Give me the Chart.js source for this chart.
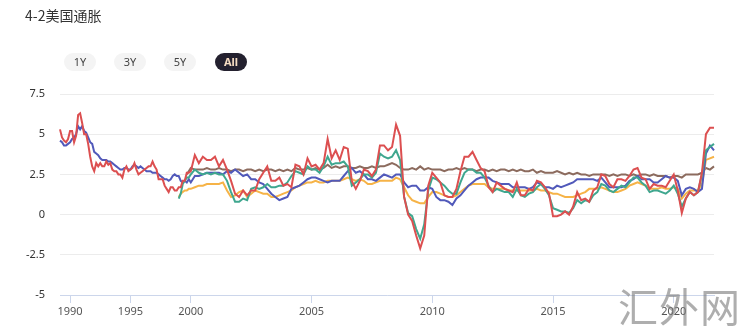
<!DOCTYPE html>
<html>
<head>
<meta charset="utf-8">
<script src="https://cdn.jsdelivr.net/npm/chart.js@4.4.0/dist/chart.umd.min.js"></script>
<style>
  body { margin: 0; background: #fff; }
  #wrap { position: relative; width: 745px; height: 327px; overflow: hidden; }
  #title { position: absolute; left: 25px; top: 5px; font: 14px "Noto Sans CJK SC", sans-serif; color: #333; }
  .btn { position: absolute; top: 53px; width: 32px; height: 18px; border-radius: 9px; background: #f4f4f4;
         font: 11px "Noto Sans", sans-serif; color: #444; text-align: center; line-height: 18px; }
  .btn.on { background: #24212f; color: #f6dcc2; font-weight: bold; }
  #mark { position: absolute; left: 618px; top: 276px; font: 400 40px "Noto Sans CJK SC", sans-serif;
          color: rgba(120,120,120,0.6); letter-spacing: 1px; }
  canvas { position: absolute; left: 0; top: 0; }
</style>
</head>
<body>
<div id="wrap">
  <canvas id="inflation-chart" width="745" height="327"></canvas>
  <div id="title">4-2美国通胀</div>
  <div class="btn" style="left:64px">1Y</div>
  <div class="btn" style="left:114px">3Y</div>
  <div class="btn" style="left:164px">5Y</div>
  <div class="btn on" style="left:215px">All</div>
  <div id="mark">汇外网</div>
</div>
<script>
// categories: every 2 months before 2000, monthly from 2000 on (as in the source chart)
const categories = [];
for (let y = 1989; y <= 2021; y++) {
    for (let m = 1; m <= 12; m++) {
        if (y === 1989 && m < 3) continue;
        if (y === 2021 && m > 9) break;
        if (y < 2000 && m % 2 === 0) continue;
        categories.push(`${y}-${String(m).padStart(2, '0')}`);
    }
}
// values are read at odd months (Jan, Mar, May, Jul, Sep, Nov)
const sampleDates = categories.filter(c => +c.slice(5) % 2 === 1);

// CPI YoY, from 1989-03
const cpi = [
    5.3, 4.8, 4.6, 4.5, 4.7,
    5.2, 5.2, 4.5, 4.9, 6.2, 6.3,
    5.7, 5.0, 5.0, 4.4, 3.6, 3.0,
    2.7, 3.2, 3.0, 3.2, 3.0, 3.0,
    3.3, 3.1, 3.2, 2.8, 2.7, 2.7,
    2.5, 2.5, 2.3, 2.8, 3.0, 2.7,
    2.8, 2.9, 3.2, 2.8, 2.5, 2.6,
    2.7, 2.8, 2.9, 3.0, 3.0, 3.3,
    3.0, 2.8, 2.2, 2.2, 2.2, 1.8,
    1.6, 1.4, 1.7, 1.7, 1.5, 1.5,
    1.7, 1.7, 2.1, 2.1, 2.6, 2.6,
    2.7, 3.7, 3.2, 3.6, 3.4, 3.4,
    3.6, 3.0, 3.4, 2.8, 2.1, 1.3,
    1.1, 1.5, 1.2, 1.5, 1.5, 2.2,
    2.6, 3.0, 2.1, 2.1, 2.3, 1.8,
    1.9, 1.7, 3.1, 3.0, 2.5, 3.5,
    3.0, 3.1, 2.8, 3.2, 4.7, 3.5,
    4.0, 3.4, 4.2, 4.1, 2.1, 1.6,
    2.1, 2.8, 2.7, 2.4, 2.8, 4.3,
    4.3, 4.0, 4.2, 5.6, 4.9, 1.1,
    0.0, -0.4, -1.3, -2.1, -1.3, 1.8,
    2.6, 2.3, 2.0, 1.2, 1.1, 1.1,
    1.6, 2.7, 3.6, 3.6, 3.9, 3.4,
    2.9, 2.7, 1.7, 1.4, 2.0, 1.8,
    1.6, 1.5, 1.4, 2.0, 1.2, 1.2,
    1.6, 1.5, 2.1, 2.0, 1.7, 1.3,
    -0.1, -0.1, 0.0, 0.2, 0.0, 0.5,
    1.4, 0.9, 1.0, 0.8, 1.5, 1.7,
    2.5, 2.4, 1.9, 1.7, 2.2, 2.2,
    2.1, 2.4, 2.8, 2.9, 2.3, 2.2,
    1.6, 1.9, 1.8, 1.8, 1.7, 2.1,
    2.5, 1.5, 0.1, 1.0, 1.4, 1.2,
    1.4, 2.6, 5.0, 5.4, 5.4
];

// core CPI YoY, from 1989-03
const coreCpi = [
    4.6, 4.5, 4.3, 4.3, 4.4,
    4.5, 4.7, 4.8, 5.0, 5.5, 5.3,
    5.5, 5.2, 5.1, 4.8, 4.5, 4.4,
    3.9, 3.8, 3.7, 3.5, 3.4, 3.4,
    3.4, 3.3, 3.3, 3.2, 3.1, 3.0,
    2.9, 2.8, 2.8, 2.9, 2.9, 2.8,
    2.8, 3.0, 3.1, 3.0, 2.9, 3.0,
    2.9, 2.8, 2.7, 2.7, 2.7, 2.6,
    2.6, 2.6, 2.5, 2.4, 2.3, 2.2,
    2.2, 2.1, 2.2, 2.4, 2.5, 2.4,
    2.4, 2.1, 2.0, 2.1, 2.0, 2.2,
    2.0, 2.4, 2.4, 2.5, 2.6, 2.6,
    2.6, 2.6, 2.5, 2.7, 2.6, 2.8,
    2.6, 2.4, 2.5, 2.2, 2.2, 2.0,
    1.9, 1.6, 1.3, 1.1, 0.9, 1.0,
    1.1, 1.6, 1.7, 1.8, 2.0, 2.2,
    2.3, 2.3, 2.2, 2.1, 2.0, 2.1,
    2.1, 2.1, 2.4, 2.7, 2.9, 2.6,
    2.7, 2.5, 2.2, 2.2, 2.1, 2.3,
    2.5, 2.4, 2.3, 2.5, 2.5, 2.0,
    1.7, 1.8, 1.8, 1.5, 1.5, 1.7,
    1.6, 1.1, 0.9, 0.9, 0.8, 0.6,
    1.0, 1.2, 1.5, 1.8, 2.0, 2.2,
    2.3, 2.3, 2.3, 2.1, 2.0, 1.9,
    1.9, 1.9, 1.7, 1.7, 1.7, 1.7,
    1.6, 1.7, 2.0, 1.9, 1.7, 1.7,
    1.6, 1.8, 1.7, 1.8, 1.9, 2.0,
    2.2, 2.2, 2.2, 2.2, 2.2, 2.1,
    2.3, 2.0, 1.7, 1.7, 1.7, 1.7,
    1.8, 2.1, 2.2, 2.4, 2.2, 2.2,
    2.2, 2.0, 2.0, 2.2, 2.4, 2.3,
    2.3, 2.1, 1.2, 1.6, 1.7, 1.6,
    1.4, 1.6, 3.8, 4.3, 4.0
];

// PCE YoY, from 1999-01
const pce = [
    1.0, 1.3, 1.9, 2.1, 2.3, 2.3,
    2.5, 2.8, 2.6, 2.5, 2.6, 2.5,
    2.6, 2.5, 2.5, 2.1, 1.4, 0.8,
    0.8, 1.0, 0.9, 1.6, 1.7, 1.6,
    1.7, 1.9, 1.7, 1.7, 1.8, 1.8,
    2.0, 2.4, 2.7, 2.6, 2.5, 3.0,
    2.8, 2.8, 2.6, 3.0, 3.6, 3.1,
    3.2, 3.2, 3.3, 3.0, 1.8, 2.0,
    2.2, 2.5, 2.5, 2.3, 2.6, 3.8,
    3.6, 3.5, 3.6, 4.0, 3.4, 1.1,
    0.1, -0.1, -0.9, -1.5, -0.6, 1.5,
    2.3, 2.2, 2.0, 1.8, 1.5, 1.3,
    1.3, 2.0, 2.6, 2.8, 2.8, 2.6,
    2.6, 2.3, 1.8, 1.4, 1.6, 1.5,
    1.4, 1.4, 1.1, 1.6, 1.2, 1.1,
    1.3, 1.4, 1.7, 1.9, 1.6, 1.2,
    0.4, 0.3, 0.2, 0.2, 0.1, 0.4,
    0.9, 0.7, 0.9, 0.8, 1.2, 1.4,
    1.9, 1.8, 1.5, 1.4, 1.6, 1.8,
    1.7, 2.0, 2.3, 2.3, 2.0, 1.8,
    1.4, 1.5, 1.5, 1.4, 1.3, 1.5,
    1.8, 1.3, 0.5, 1.0, 1.4, 1.2,
    1.4, 2.5, 4.0, 4.2, 4.4
];

// core PCE YoY, from 1999-01
const corePce = [
    1.1, 1.3, 1.4, 1.5, 1.5, 1.6,
    1.6, 1.7, 1.8, 1.8, 1.9, 1.9,
    1.9, 1.9, 2.0, 1.5, 1.1, 1.2,
    1.4, 1.5, 1.1, 1.3, 1.5, 1.4,
    1.3, 1.3, 1.1, 1.1, 1.2, 1.3,
    1.4, 1.5, 1.7, 1.8, 1.9, 2.0,
    2.0, 2.1, 2.0, 2.0, 2.1, 2.1,
    2.1, 2.1, 2.2, 2.3, 2.2, 2.1,
    2.2, 2.1, 1.9, 1.9, 2.0, 2.1,
    2.1, 2.1, 2.1, 2.3, 2.2, 1.7,
    1.2, 0.9, 0.8, 0.7, 0.7, 1.1,
    1.4, 1.4, 1.3, 1.2, 1.1, 1.1,
    1.2, 1.4, 1.6, 1.8, 1.9, 1.9,
    1.9, 1.9, 1.7, 1.6, 1.6, 1.6,
    1.6, 1.5, 1.5, 1.5, 1.5, 1.5,
    1.5, 1.5, 1.6, 1.5, 1.5, 1.4,
    1.3, 1.3, 1.2, 1.1, 1.1, 1.1,
    1.2, 1.3, 1.4, 1.6, 1.6, 1.6,
    1.7, 1.6, 1.5, 1.4, 1.4, 1.5,
    1.6, 1.8, 1.9, 2.0, 1.9, 1.8,
    1.6, 1.6, 1.6, 1.7, 1.6, 1.6,
    1.7, 1.6, 1.0, 1.3, 1.5, 1.5,
    1.5, 1.9, 3.4, 3.5, 3.6
];

// long-run inflation expectations, from 1999-09
const expectations = [
    2.5, 2.7,
    2.9, 2.8, 2.8, 2.8, 2.9, 2.8,
    2.8, 2.9, 2.8, 2.8, 2.7, 2.8,
    2.8, 2.7, 2.8, 2.8, 2.7, 2.8,
    2.7, 2.8, 2.8, 2.7, 2.8, 2.7,
    2.8, 2.7, 2.9, 2.8, 2.8, 2.9,
    2.8, 2.9, 2.8, 2.9, 3.1, 2.9,
    3.0, 2.9, 3.0, 3.0, 2.9, 2.9,
    3.0, 2.9, 2.9, 3.0, 2.9, 3.0,
    3.0, 3.1, 3.2, 3.1, 2.9, 2.8,
    2.8, 2.9, 2.8, 3.0, 2.8, 2.9,
    2.8, 2.8, 2.8, 2.7, 2.8, 2.8,
    2.9, 2.8, 2.9, 2.8, 2.8, 2.7,
    2.8, 2.8, 2.7, 2.8, 2.7, 2.8,
    2.8, 2.7, 2.8, 2.7, 2.8, 2.7,
    2.7, 2.8, 2.6, 2.7, 2.6, 2.6,
    2.6, 2.7, 2.6, 2.5, 2.6, 2.5,
    2.6, 2.5, 2.5, 2.4, 2.5, 2.5,
    2.5, 2.5, 2.4, 2.5, 2.4, 2.5,
    2.5, 2.4, 2.5, 2.4, 2.5, 2.5,
    2.4, 2.5, 2.4, 2.4, 2.4, 2.3,
    2.4, 2.4, 2.3, 2.5, 2.5, 2.5,
    2.5, 2.6, 2.9, 2.8, 3.0
];

const toPoints = (values, start) => {
    const offset = sampleDates.indexOf(start);
    return values.map((v, i) => ({ x: sampleDates[offset + i], y: v }));
};

const series = [
    { label: 'CPI', data: toPoints(cpi, '1989-03'), color: '#dc4f50' },
    { label: 'PCE', data: toPoints(pce, '1999-01'), color: '#3fa78f' },
    { label: 'Core CPI', data: toPoints(coreCpi, '1989-03'), color: '#5159ba' },
    { label: 'Core PCE', data: toPoints(corePce, '1999-01'), color: '#f6b347' },
    { label: 'Expectations', data: toPoints(expectations, '1999-09'), color: '#8c6b5e' }
];

const showTick = label => label.endsWith('-01') && +label.slice(0, 4) % 5 === 0;

const config = {
    type: 'line',
    data: {
        labels: categories,
        datasets: series.map(s => ({
            label: s.label,
            data: s.data,
            borderColor: s.color,
            backgroundColor: s.color,
            borderWidth: 2,
            pointRadius: 0,
            tension: 0,
            fill: false
        }))
    },
    options: {
        animation: false,
        responsive: false,
        layout: { padding: { top: 94, right: 31, bottom: 0, left: 0 } },
        plugins: {
            legend: { display: false },
            tooltip: { enabled: false }
        },
        scales: {
            x: {
                type: 'category',
                offset: false,
                grid: {
                    drawOnChartArea: false,
                    tickLength: 8,
                    tickColor: ctx => showTick(categories[ctx.index] || '') ? '#ccd6eb' : 'rgba(0,0,0,0)'
                },
                border: { color: '#ccd6eb' },
                ticks: {
                    autoSkip: false,
                    maxRotation: 0,
                    padding: 2,
                    color: '#555',
                    font: { family: 'Noto Sans', size: 11 },
                    callback: function (value) {
                        const label = this.getLabelForValue(value);
                        return showTick(label) ? label.slice(0, 4) : '';
                    }
                },
                afterFit: scale => { scale.height = 32; }
            },
            y: {
                min: -5,
                max: 7.5,
                grid: { color: '#ececec', drawTicks: false },
                border: { display: false },
                ticks: {
                    stepSize: 2.5,
                    padding: 15,
                    color: '#333',
                    font: { family: 'Noto Sans', size: 11 }
                },
                afterFit: scale => { scale.width = 60; }
            }
        }
    }
};

const ctx = document.getElementById('inflation-chart').getContext('2d');
new Chart(ctx, config);
</script>
</body>
</html>
